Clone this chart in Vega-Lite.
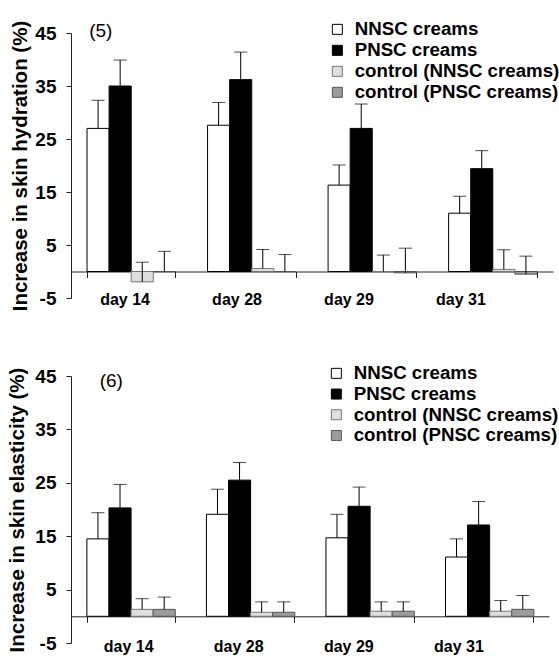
{
  "$schema": "https://vega.github.io/schema/vega-lite/v6.json",
  "padding": {"left": 7, "top": 20, "right": 0, "bottom": 0},
  "spacing": 53,
  "align": "none",
  "datasets": {
    "days": [{"day": "day 14"}, {"day": "day 28"}, {"day": "day 29"}, {"day": "day 31"}],
    "hyd": [
      {"day": "day 14", "group": "NNSC creams", "value": 27.0, "upper": 32.3},
      {"day": "day 14", "group": "PNSC creams", "value": 35.0, "upper": 39.9},
      {"day": "day 14", "group": "control (NNSC creams)", "value": -1.95, "upper": 1.75},
      {"day": "day 14", "group": "control (PNSC creams)", "value": 0, "upper": 3.8},
      {"day": "day 28", "group": "NNSC creams", "value": 27.6, "upper": 31.9},
      {"day": "day 28", "group": "PNSC creams", "value": 36.2, "upper": 41.4},
      {"day": "day 28", "group": "control (NNSC creams)", "value": 0.57, "upper": 4.15},
      {"day": "day 28", "group": "control (PNSC creams)", "value": 0, "upper": 3.2},
      {"day": "day 29", "group": "NNSC creams", "value": 16.3, "upper": 20.1},
      {"day": "day 29", "group": "PNSC creams", "value": 27.0, "upper": 31.6},
      {"day": "day 29", "group": "control (NNSC creams)", "value": 0, "upper": 3.1},
      {"day": "day 29", "group": "control (PNSC creams)", "value": -0.25, "upper": 4.4},
      {"day": "day 31", "group": "NNSC creams", "value": 11.0, "upper": 14.2},
      {"day": "day 31", "group": "PNSC creams", "value": 19.4, "upper": 22.8},
      {"day": "day 31", "group": "control (NNSC creams)", "value": 0.4, "upper": 4.1},
      {"day": "day 31", "group": "control (PNSC creams)", "value": -0.5, "upper": 2.9}
    ],
    "ela": [
      {"day": "day 14", "group": "NNSC creams", "value": 14.5, "upper": 19.4},
      {"day": "day 14", "group": "PNSC creams", "value": 20.3, "upper": 24.7},
      {"day": "day 14", "group": "control (NNSC creams)", "value": 1.3, "upper": 3.3},
      {"day": "day 14", "group": "control (PNSC creams)", "value": 1.3, "upper": 3.6},
      {"day": "day 28", "group": "NNSC creams", "value": 19.1, "upper": 23.8},
      {"day": "day 28", "group": "PNSC creams", "value": 25.5, "upper": 28.8},
      {"day": "day 28", "group": "control (NNSC creams)", "value": 0.75, "upper": 2.7},
      {"day": "day 28", "group": "control (PNSC creams)", "value": 0.75, "upper": 2.7},
      {"day": "day 29", "group": "NNSC creams", "value": 14.7, "upper": 19.1},
      {"day": "day 29", "group": "PNSC creams", "value": 20.6, "upper": 24.2},
      {"day": "day 29", "group": "control (NNSC creams)", "value": 0.95, "upper": 2.7},
      {"day": "day 29", "group": "control (PNSC creams)", "value": 0.95, "upper": 2.7},
      {"day": "day 31", "group": "NNSC creams", "value": 11.1, "upper": 14.5},
      {"day": "day 31", "group": "PNSC creams", "value": 17.1, "upper": 21.5},
      {"day": "day 31", "group": "control (NNSC creams)", "value": 0.95, "upper": 2.95},
      {"day": "day 31", "group": "control (PNSC creams)", "value": 1.3, "upper": 3.9}
    ]
  },
  "config": {
    "font": "Liberation Sans",
    "view": {"stroke": null},
    "axis": {"grid": false, "domainColor": "#222", "tickColor": "#222", "labelColor": "black", "titleColor": "black"},
    "legend": {"padding": 0}
  },
  "resolve": {"scale": {"fill": "independent", "stroke": "independent"}, "legend": {"fill": "independent"}},
  "vconcat": [
    {
      "width": 482,
      "height": 265,
      "resolve": {"scale": {"x": "independent"}, "axis": {"x": "independent"}},
      "layer": [
        {
          "layer": [
            {
              "data": {"name": "hyd"},
              "mark": {"type": "bar", "strokeWidth": 1},
              "encoding": {
                "x": {"field": "day", "type": "nominal", "sort": null,
                  "scale": {"paddingInner": 0.267, "paddingOuter": 0.133},
                  "axis": {"title": null, "offset": -26.5, "tickBand": "extent", "tickSize": 6, "labels": false}},
                "xOffset": {"field": "group", "type": "nominal", "sort": null, "scale": {"paddingInner": 0, "paddingOuter": 0}},
                "y": {"field": "value", "type": "quantitative",
                  "scale": {"domain": [-5, 45], "nice": false, "zero": false},
                  "axis": {"values": [-5, 5, 15, 25, 35, 45], "labelExpr": "'' + datum.value", "labelFontSize": 19, "labelFontWeight": "bold",
                    "tickSize": 5, "labelPadding": 10, "title": "Increase in skin hydration (%)", "titleFontSize": 20.5,
                    "titleFontWeight": "bold", "titlePadding": 4}},
                "fill": {"field": "group", "type": "nominal", "sort": null,
                  "scale": {"domain": ["NNSC creams", "PNSC creams", "control (NNSC creams)", "control (PNSC creams)"],
                    "range": ["#ffffff", "#000000", "#dedede", "#9c9c9c"]},
                  "legend": {"title": null, "orient": "none", "legendX": 257, "legendY": -13, "labelFontSize": 18.7,
                    "labelFontWeight": "bold", "symbolType": "square", "symbolSize": 100, "symbolStrokeColor": "black",
                    "symbolStrokeWidth": 1, "rowPadding": 1, "labelOffset": 8, "labelLimit": 0}},
                "stroke": {"field": "group", "type": "nominal", "sort": null,
                  "scale": {"domain": ["NNSC creams", "PNSC creams", "control (NNSC creams)", "control (PNSC creams)"],
                    "range": ["#000000", "#000000", "#777777", "#555555"]}, "legend": null}
              }
            },
            {
              "data": {"name": "hyd"},
              "mark": {"type": "rule", "color": "black", "strokeWidth": 1},
              "encoding": {
                "x": {"field": "day", "type": "nominal", "sort": null},
                "xOffset": {"field": "group", "type": "nominal", "sort": null},
                "y": {"field": "value", "type": "quantitative"},
                "y2": {"field": "upper"}
              }
            },
            {
              "data": {"name": "hyd"},
              "mark": {"type": "tick", "color": "black", "thickness": 1, "size": 13},
              "encoding": {
                "x": {"field": "day", "type": "nominal", "sort": null},
                "xOffset": {"field": "group", "type": "nominal", "sort": null},
                "y": {"field": "upper", "type": "quantitative"}
              }
            },
            {
              "data": {"values": [{"label": "(5)"}]},
              "mark": {"type": "text", "align": "left", "baseline": "middle", "fontSize": 19, "dx": -42, "dy": -2, "color": "black"},
              "encoding": {
                "x": {"datum": "day 14", "type": "nominal"},
                "y": {"datum": 45, "type": "quantitative"},
                "text": {"field": "label"}
              }
            }
          ]
        },
        {
          "data": {"name": "days"},
          "mark": {"type": "text", "align": "center", "baseline": "middle", "fontSize": 16, "fontWeight": "bold", "dy": 2, "color": "black"},
          "encoding": {
            "x": {"field": "day", "type": "nominal", "sort": null, "axis": null,
              "scale": {"type": "point", "padding": 0.652, "align": 0.37}},
            "y": {"datum": -5, "type": "quantitative"},
            "text": {"field": "day"}
          }
        }
      ]
    },
    {
      "width": 478,
      "height": 267,
      "resolve": {"scale": {"x": "independent"}, "axis": {"x": "independent"}},
      "layer": [
        {
          "layer": [
            {
              "data": {"name": "ela"},
              "mark": {"type": "bar", "strokeWidth": 1},
              "encoding": {
                "x": {"field": "day", "type": "nominal", "sort": null,
                  "scale": {"paddingInner": 0.267, "paddingOuter": 0.133},
                  "axis": {"title": null, "offset": -26.7, "tickBand": "extent", "tickSize": 6, "labels": false}},
                "xOffset": {"field": "group", "type": "nominal", "sort": null, "scale": {"paddingInner": 0, "paddingOuter": 0}},
                "y": {"field": "value", "type": "quantitative",
                  "scale": {"domain": [-5, 45], "nice": false, "zero": false},
                  "axis": {"values": [-5, 5, 15, 25, 35, 45], "labelExpr": "'' + datum.value", "labelFontSize": 19, "labelFontWeight": "bold",
                    "tickSize": 5, "labelPadding": 10, "title": "Increase in skin elasticity (%)", "titleFontSize": 20.5,
                    "titleFontWeight": "bold", "titlePadding": 7}},
                "fill": {"field": "group", "type": "nominal", "sort": null,
                  "scale": {"domain": ["NNSC creams", "PNSC creams", "control (NNSC creams)", "control (PNSC creams)"],
                    "range": ["#ffffff", "#000000", "#dedede", "#9c9c9c"]},
                  "legend": {"title": null, "orient": "none", "legendX": 256, "legendY": -12, "labelFontSize": 18.7,
                    "labelFontWeight": "bold", "symbolType": "square", "symbolSize": 100, "symbolStrokeColor": "black",
                    "symbolStrokeWidth": 1, "rowPadding": 0.7, "labelOffset": 8, "labelLimit": 0}},
                "stroke": {"field": "group", "type": "nominal", "sort": null,
                  "scale": {"domain": ["NNSC creams", "PNSC creams", "control (NNSC creams)", "control (PNSC creams)"],
                    "range": ["#000000", "#000000", "#777777", "#555555"]}, "legend": null}
              }
            },
            {
              "data": {"name": "ela"},
              "mark": {"type": "rule", "color": "black", "strokeWidth": 1},
              "encoding": {
                "x": {"field": "day", "type": "nominal", "sort": null},
                "xOffset": {"field": "group", "type": "nominal", "sort": null},
                "y": {"field": "value", "type": "quantitative"},
                "y2": {"field": "upper"}
              }
            },
            {
              "data": {"name": "ela"},
              "mark": {"type": "tick", "color": "black", "thickness": 1, "size": 13},
              "encoding": {
                "x": {"field": "day", "type": "nominal", "sort": null},
                "xOffset": {"field": "group", "type": "nominal", "sort": null},
                "y": {"field": "upper", "type": "quantitative"}
              }
            },
            {
              "data": {"values": [{"label": "(6)"}]},
              "mark": {"type": "text", "align": "left", "baseline": "middle", "fontSize": 19, "dx": -31, "dy": 5, "color": "black"},
              "encoding": {
                "x": {"datum": "day 14", "type": "nominal"},
                "y": {"datum": 45, "type": "quantitative"},
                "text": {"field": "label"}
              }
            }
          ]
        },
        {
          "data": {"name": "days"},
          "mark": {"type": "text", "align": "center", "baseline": "middle", "fontSize": 16, "fontWeight": "bold", "dy": 4, "color": "black"},
          "encoding": {
            "x": {"field": "day", "type": "nominal", "sort": null, "axis": null,
              "scale": {"type": "point", "padding": 0.671, "align": 0.39}},
            "y": {"datum": -5, "type": "quantitative"},
            "text": {"field": "day"}
          }
        }
      ]
    }
  ]
}
